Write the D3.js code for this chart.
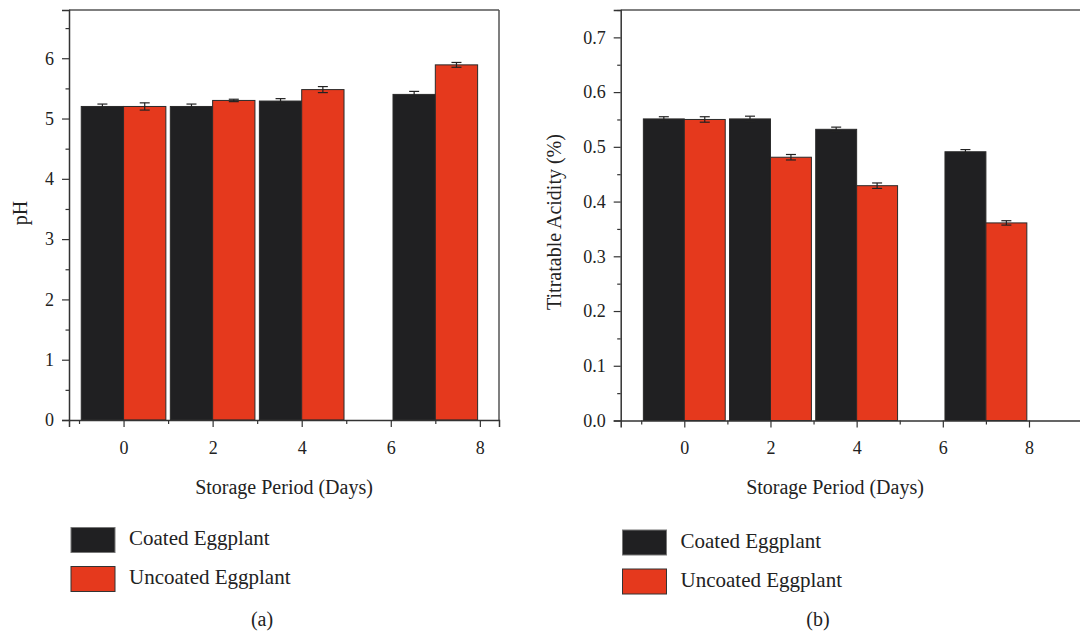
<!DOCTYPE html>
<html>
<head>
<meta charset="utf-8">
<script src="https://cdn.jsdelivr.net/npm/d3@7"></script>
<style>
  body { margin: 0; background: #fff; }
  svg { display: block; font-family: "Liberation Serif", "DejaVu Serif", serif; }
</style>
</head>
<body>
<div id="chart"></div>
<script>
// storage days and where each bar pair sits on the day axis
const days = [0, 2, 4, 8];
const groupPos = [0, 2, 4, 7];
const xTicks = [0, 2, 4, 6, 8];
const series = ['Coated Eggplant', 'Uncoated Eggplant'];
const colors = ['#202022', '#e5391d'];

// (a) pH
const phCoated = [5.20, 5.20, 5.29, 5.40];
const phCoatedErr = [0.04, 0.04, 0.04, 0.05];
const phUncoated = [5.20, 5.30, 5.48, 5.89];
const phUncoatedErr = [0.06, 0.02, 0.05, 0.04];

// (b) titratable acidity
const taCoated = [0.551, 0.551, 0.532, 0.491];
const taCoatedErr = [0.004, 0.005, 0.004, 0.004];
const taUncoated = [0.550, 0.481, 0.429, 0.361];
const taUncoatedErr = [0.005, 0.005, 0.005, 0.004];

const W = 1080, H = 632;
const svg = d3.select('#chart').append('svg')
    .attr('width', W)
    .attr('height', H);

const barW = 0.95;

function drawPanel(p) {
    const g = svg.append('g');
    const x = d3.scaleLinear().domain(p.xDomain).range([p.left, p.right]);
    const y = d3.scaleLinear().domain(p.yDomain).range([p.bottom, p.top]);

    // bars
    const rows = [];
    days.forEach((d, i) => {
        rows.push({s: 0, pos: groupPos[i], v: p.coated[i], e: p.coatedErr[i]});
        rows.push({s: 1, pos: groupPos[i], v: p.uncoated[i], e: p.uncoatedErr[i]});
    });

    g.selectAll('rect.bar')
        .data(rows)
        .enter()
        .append('rect')
        .attr('class', 'bar')
        .attr('x', d => d.s === 0 ? x(d.pos - barW) : x(d.pos))
        .attr('width', x(barW) - x(0))
        .attr('y', d => y(d.v))
        .attr('height', d => y(0) - y(d.v))
        .attr('fill', d => colors[d.s])
        .attr('stroke', '#2a2a2a')
        .attr('stroke-width', 1);

    // error bars
    const cap = 5;
    const eb = g.selectAll('g.err')
        .data(rows)
        .enter()
        .append('g')
        .attr('class', 'err')
        .attr('stroke', '#222')
        .attr('stroke-width', 1.2);
    const cx = d => d.s === 0 ? x(d.pos - barW / 2) : x(d.pos + barW / 2);
    eb.append('line')
        .attr('x1', cx).attr('x2', cx)
        .attr('y1', d => y(d.v + d.e)).attr('y2', d => y(d.v - d.e));
    eb.append('line')
        .attr('x1', d => cx(d) - cap).attr('x2', d => cx(d) + cap)
        .attr('y1', d => y(d.v + d.e)).attr('y2', d => y(d.v + d.e));
    eb.append('line')
        .attr('x1', d => cx(d) - cap).attr('x2', d => cx(d) + cap)
        .attr('y1', d => y(d.v - d.e)).attr('y2', d => y(d.v - d.e));

    // frame (top, right)
    g.append('line')
        .attr('x1', p.left).attr('x2', p.right)
        .attr('y1', p.top).attr('y2', p.top)
        .attr('stroke', '#555').attr('stroke-width', 1.5);
    g.append('line')
        .attr('x1', p.right).attr('x2', p.right)
        .attr('y1', p.top).attr('y2', p.bottom)
        .attr('stroke', '#555').attr('stroke-width', 1.5);

    // y axis
    g.append('g')
        .attr('transform', `translate(${p.left},0)`)
        .call(d3.axisLeft(y).tickValues(p.yTicks).tickFormat(p.yFormat).tickSize(7).tickPadding(8));
    g.append('g')
        .attr('transform', `translate(${p.left},0)`)
        .call(d3.axisLeft(y).tickValues(p.yMinor).tickFormat('').tickSize(3.5))
        .call(a => a.select('.domain').remove());

    // x axis
    g.append('g')
        .attr('transform', `translate(0,${p.bottom})`)
        .call(d3.axisBottom(x).tickValues(xTicks).tickFormat(d3.format('d')).tickSize(7).tickPadding(14));
    g.append('g')
        .attr('transform', `translate(0,${p.bottom})`)
        .call(d3.axisBottom(x).tickValues([-1, 1, 3, 5, 7]).tickFormat('').tickSize(4))
        .call(a => a.select('.domain').remove());

    g.selectAll('.domain').attr('stroke', '#333').attr('stroke-width', 1.5);
    g.selectAll('.tick line').attr('stroke', '#333').attr('stroke-width', 1.2);
    g.selectAll('.tick text')
        .attr('fill', '#222')
        .style('font-size', '18px')
        .style('font-family', '"Liberation Serif", serif');

    // axis titles
    g.append('text')
        .attr('x', p.xTitleX)
        .attr('y', 494)
        .attr('text-anchor', 'middle')
        .attr('fill', '#222')
        .style('font-size', '20px')
        .text('Storage Period (Days)');

    g.append('text')
        .attr('transform', `translate(${p.yTitleX},${p.yTitleY}) rotate(-90)`)
        .attr('text-anchor', 'middle')
        .attr('fill', '#222')
        .style('font-size', '20px')
        .text(p.yTitle);

    // legend
    const lg = g.append('g')
        .attr('transform', `translate(${p.legX},${p.legY})`);
    series.forEach((s, i) => {
        lg.append('rect')
            .attr('x', 0)
            .attr('y', i * 39)
            .attr('width', 44)
            .attr('height', 25)
            .attr('fill', colors[i])
            .attr('stroke', i === 0 ? '#777' : '#333')
            .attr('stroke-width', 1);
        lg.append('text')
            .attr('x', 58)
            .attr('y', i * 39 + 17.5)
            .attr('fill', '#222')
            .style('font-size', '21px')
            .text(s);
    });

    // panel label
    g.append('text')
        .attr('x', p.labelX)
        .attr('y', 626)
        .attr('text-anchor', 'middle')
        .attr('fill', '#222')
        .style('font-size', '20px')
        .text(p.label);
}

drawPanel({
    left: 69, right: 499, top: 10, bottom: 420,
    xDomain: [-1.225, 8.43],
    yDomain: [0, 6.8],
    yTicks: d3.range(0, 7, 1),
    yMinor: d3.range(0.5, 7, 1),
    yFormat: d3.format('d'),
    coated: phCoated, coatedErr: phCoatedErr,
    uncoated: phUncoated, uncoatedErr: phUncoatedErr,
    yTitle: 'pH', yTitleX: 27, yTitleY: 213,
    xTitleX: 284,
    legX: 71, legY: 527.5,
    label: '(a)', labelX: 262
});

drawPanel({
    left: 620.7, right: 1085, top: 10, bottom: 420.5,
    xDomain: [-1.476, 9.3],
    yDomain: [0, 0.75],
    yTicks: d3.range(0, 0.75, 0.1),
    yMinor: d3.range(0.05, 0.76, 0.1),
    yFormat: d3.format('.1f'),
    coated: taCoated, coatedErr: taCoatedErr,
    uncoated: taUncoated, uncoatedErr: taUncoatedErr,
    yTitle: 'Titratable Acidity (%)', yTitleX: 561, yTitleY: 222,
    xTitleX: 835,
    legX: 622.5, legY: 530,
    label: '(b)', labelX: 818
});
</script>
</body>
</html>
